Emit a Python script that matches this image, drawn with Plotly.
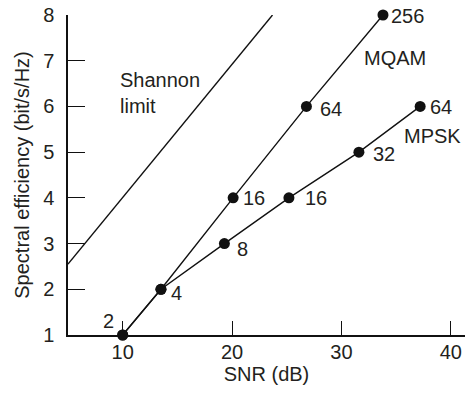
import plotly.graph_objects as go

# Data
mqam_snr = [10, 13.5, 20.1, 26.8, 33.8]
mqam_eff = [1, 2, 4, 6, 8]
mqam_labels = ["2", "4", "16", "64", "256"]

mpsk_snr = [10, 13.5, 19.3, 25.2, 31.6, 37.2]
mpsk_eff = [1, 2, 3, 4, 5, 6]
mpsk_labels = ["2", "4", "8", "16", "32", "64"]

shannon_snr = [5, 23.7]
shannon_eff = [2.55, 8.0]

x_ticks = [10, 20, 30, 40]
y_ticks = [1, 2, 3, 4, 5, 6, 7, 8]

FONT = "Liberation Sans, Arial, Helvetica, sans-serif"
TXT = "#231f20"
FS = 20

fig = go.Figure()
line_style = dict(color="#111", width=1.4)
mk = dict(color="#111", size=11)

fig.add_trace(go.Scatter(x=shannon_snr, y=shannon_eff, mode="lines", line=line_style,
                         cliponaxis=False, hoverinfo="skip"))
fig.add_trace(go.Scatter(x=mqam_snr, y=mqam_eff, mode="lines+markers", line=line_style,
                         marker=mk, cliponaxis=False))
fig.add_trace(go.Scatter(x=mpsk_snr, y=mpsk_eff, mode="lines+markers", line=line_style,
                         marker=mk, cliponaxis=False))

annotations = []
# point label offsets (px): (xanchor, xshift, yshift)
mqam_off = [("right", -7, 14), ("left", 8, -4), ("left", 8, 0), ("left", 12, -3), ("left", 6, -1)]
mpsk_off = [None, None, ("left", 11, -5), ("left", 14, 0), ("left", 12, -2), ("left", 8, -1)]
for x, y, t, o in zip(mqam_snr, mqam_eff, mqam_labels, mqam_off):
    annotations.append(dict(x=x, y=y, text=t, showarrow=False, xanchor=o[0], yanchor="middle",
                            xshift=o[1], yshift=o[2], font=dict(size=FS, family=FONT, color=TXT)))
for x, y, t, o in zip(mpsk_snr, mpsk_eff, mpsk_labels, mpsk_off):
    if o is None:
        continue
    annotations.append(dict(x=x, y=y, text=t, showarrow=False, xanchor=o[0], yanchor="middle",
                            xshift=o[1], yshift=o[2], font=dict(size=FS, family=FONT, color=TXT)))

# series names
annotations += [
    dict(x=34.9, y=7.06, text="MQAM", showarrow=False, xanchor="center", yanchor="middle",
         font=dict(size=FS, family=FONT, color=TXT)),
    dict(x=38.3, y=5.35, text="MPSK", showarrow=False, xanchor="center", yanchor="middle",
         font=dict(size=FS, family=FONT, color=TXT)),
    dict(x=9.6, y=6.58, text="Shannon", showarrow=False, xanchor="left", yanchor="middle",
         font=dict(size=FS, family=FONT, color=TXT)),
    dict(x=9.6, y=6.0, text="limit", showarrow=False, xanchor="left", yanchor="middle",
         font=dict(size=FS, family=FONT, color=TXT)),
]

fig.update_layout(
    width=465, height=394,
    margin=dict(l=68, r=0, t=15, b=59),
    paper_bgcolor="white", plot_bgcolor="white",
    showlegend=False,
    font=dict(family=FONT, size=FS, color=TXT),
    annotations=annotations,
    xaxis=dict(range=[5, 41.3], tickvals=x_ticks, ticks="inside", ticklen=14, tickwidth=1.3,
               tickcolor="#111", showline=True, linecolor="#111", linewidth=1.5,
               showgrid=False, zeroline=False, ticklabelstandoff=-2,
               title=dict(text="SNR (dB)", standoff=0, font=dict(size=FS)),
               tickfont=dict(size=FS)),
    yaxis=dict(range=[1, 8], tickvals=y_ticks, ticks="inside", ticklen=17, tickwidth=1.3,
               tickcolor="#111", showline=True, linecolor="#111", linewidth=1.5,
               showgrid=False, zeroline=False, ticklabelstandoff=8,
               title=dict(text="Spectral efficiency (bit/s/Hz)", standoff=8, font=dict(size=FS)),
               tickfont=dict(size=FS)),
)

fig.write_html("out.html")
